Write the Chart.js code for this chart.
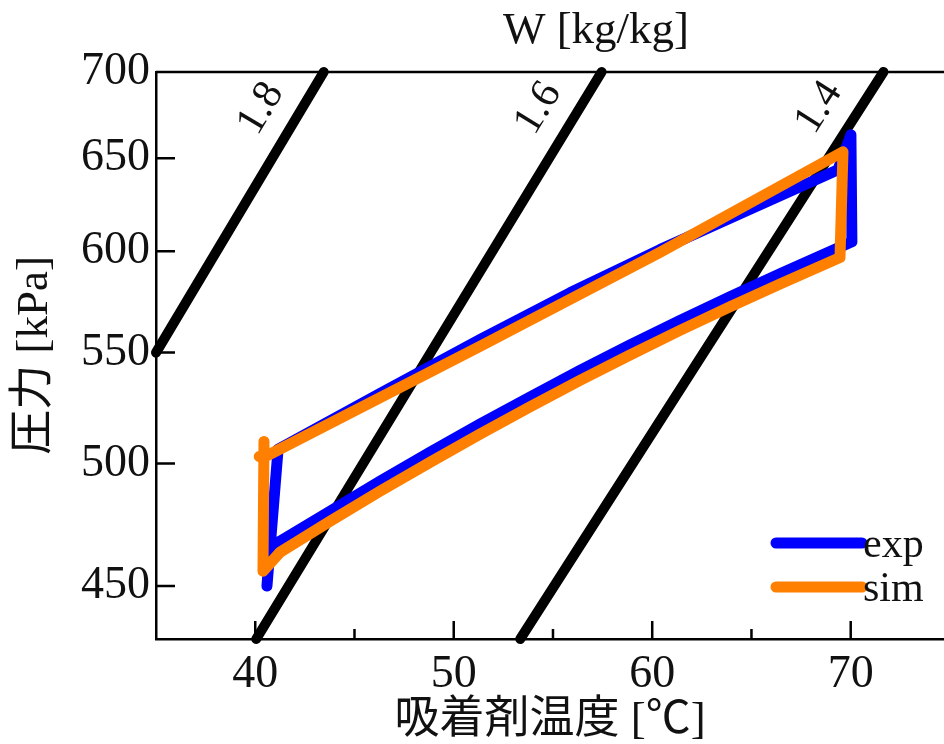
<!DOCTYPE html>
<html>
<head>
<meta charset="utf-8">
<script src="https://cdn.jsdelivr.net/npm/chart.js@4.4.1/dist/chart.umd.min.js"></script>
<style>
  html, body { margin: 0; padding: 0; background: #fff; overflow: hidden; }
</style>
</head>
<body>
<canvas id="chart" width="944" height="744"></canvas>
<script>
// loop paths: adsorbent temperature [°C] vs pressure [kPa]
const expTemp = [41.15, 46.28, 51.32, 55.86, 60.39, 64.42, 69.36, 70.01, 70.06,
	66.44, 63.92, 61.40, 58.88, 56.36, 53.84, 51.32, 48.80, 46.28, 43.77, 41.25, 40.74, 40.59, 41.15];
const expPres = [506.1, 531.0, 556.2, 579.0, 600.9, 619.7, 643.6, 663.2, 605.0,
	588.5, 577.1, 565.4, 553.6, 541.6, 529.4, 517.2, 504.8, 492.4, 479.9, 467.7, 465.7, 450.0, 506.1];
const simTemp = [40.20, 40.44, 51.32, 60.39, 69.61, 69.46,
	66.44, 63.92, 61.40, 58.88, 56.36, 53.84, 51.32, 48.80, 46.28, 43.77, 41.25, 40.39, 40.44, 40.44];
const simPres = [503.0, 502.7, 553.0, 599.5, 653.6, 596.8,
	583.4, 572.1, 560.6, 548.9, 537.0, 524.9, 512.8, 500.5, 488.2, 475.8, 463.3, 455.8, 509.6, 502.7];

// isosteres W [kg/kg], two end points each
const isoLabels = ['1.8', '1.6', '1.4'];
const isoTemp = [[35.0, 43.45], [40.05, 57.45], [53.35, 71.65]];
const isoPres = [[550, 700], [430, 700], [430, 700]];
const isoLabelPres = 668;

const xTicks = [40, 50, 60, 70];
const xMinorTicks = [45, 55, 65];
const yTicks = [450, 500, 550, 600, 650, 700];

const serif = "'Liberation Serif', 'Noto Sans CJK JP', serif";
const ink = '#111';

const toPoints = (xs, ys) => xs.map((x, i) => ({ x: x, y: ys[i] }));

const datasets = isoLabels.map((lab, i) => ({
	label: lab,
	data: toPoints(isoTemp[i], isoPres[i]),
	borderColor: '#000',
	borderWidth: 10,
	order: 2,
	clip: false
}));
datasets.push({ label: 'exp', data: toPoints(expTemp, expPres), borderColor: '#0000ff', borderWidth: 11, order: 1 });
datasets.push({ label: 'sim', data: toPoints(simTemp, simPres), borderColor: '#ff7f00', borderWidth: 11, order: 0 });

// frame, inward ticks, W labels and legend
const decor = {
	id: 'decor',
	beforeDatasetsDraw(chart) {
		const { ctx, chartArea: a, scales: { x, y } } = chart;
		ctx.save();
		ctx.strokeStyle = '#000';
		ctx.lineWidth = 2.5;
		ctx.beginPath();
		ctx.moveTo(a.left, a.top);
		ctx.lineTo(a.right, a.top);
		xTicks.forEach(v => {
			const px = x.getPixelForValue(v);
			ctx.moveTo(px, a.bottom);
			ctx.lineTo(px, a.bottom - 18);
		});
		xMinorTicks.forEach(v => {
			const px = x.getPixelForValue(v);
			ctx.moveTo(px, a.bottom);
			ctx.lineTo(px, a.bottom - 10);
		});
		yTicks.forEach(v => {
			const py = y.getPixelForValue(v);
			ctx.moveTo(a.left, py);
			ctx.lineTo(a.left + 19, py);
		});
		ctx.stroke();
		ctx.restore();
	},
	afterDatasetsDraw(chart) {
		const { ctx, chartArea: a, scales: { x, y } } = chart;
		ctx.save();
		ctx.fillStyle = ink;

		// W values written along each isostere
		ctx.font = '42px ' + serif;
		ctx.textAlign = 'center';
		ctx.textBaseline = 'middle';
		isoLabels.forEach((lab, i) => {
			const x0 = x.getPixelForValue(isoTemp[i][0]), y0 = y.getPixelForValue(isoPres[i][0]);
			const x1 = x.getPixelForValue(isoTemp[i][1]), y1 = y.getPixelForValue(isoPres[i][1]);
			const ang = Math.atan2(y1 - y0, x1 - x0);
			const py = y.getPixelForValue(isoLabelPres);
			const px = x0 + (py - y0) / (y1 - y0) * (x1 - x0);
			const cx = px + Math.sin(ang) * 35;
			const cy = py - Math.cos(ang) * 35;
			ctx.save();
			ctx.translate(cx, cy);
			ctx.rotate(ang);
			ctx.fillText(lab, 0, 0);
			ctx.restore();
		});

		// top title
		ctx.font = '45px ' + serif;
		ctx.textBaseline = 'alphabetic';
		ctx.fillText('W [kg/kg]', (a.left + a.right) / 2 + 46, a.top - 29);

		// legend
		const rows = chart.data.datasets.filter(d => d.label === 'exp' || d.label === 'sim');
		rows.forEach((d, i) => {
			const ly = a.bottom - 96 + i * 44;
			ctx.strokeStyle = d.borderColor;
			ctx.lineWidth = 11;
			ctx.lineCap = 'round';
			ctx.beginPath();
			ctx.moveTo(a.right - 168, ly);
			ctx.lineTo(a.right - 82, ly);
			ctx.stroke();
			ctx.fillStyle = ink;
			ctx.font = '42px ' + serif;
			ctx.textAlign = 'left';
			ctx.fillText(d.label, a.right - 81, ly + 14);
		});
		ctx.restore();
	}
};

new Chart(document.getElementById('chart'), {
	type: 'scatter',
	data: { datasets: datasets },
	options: {
		responsive: false,
		animation: false,
		devicePixelRatio: 1,
		layout: { padding: { top: 72, right: 0, left: 0, bottom: 0 } },
		datasets: { scatter: { showLine: true } },
		elements: {
			point: { radius: 0, hoverRadius: 0 },
			line: { borderCapStyle: 'round', borderJoinStyle: 'round', tension: 0, fill: false }
		},
		plugins: { legend: { display: false }, tooltip: { enabled: false } },
		scales: {
			x: {
				type: 'linear',
				min: 35,
				max: 74.7,
				grid: { display: false, drawTicks: false },
				border: { display: true, color: '#000', width: 2.5 },
				afterBuildTicks: s => { s.ticks = xTicks.map(v => ({ value: v })); },
				afterFit: s => { s.height = 105; },
				ticks: { font: { family: serif, size: 46 }, color: ink, padding: 8, maxRotation: 0, autoSkip: false },
				title: { display: true, text: '吸着剤温度 [℃]', color: ink, font: { family: serif, size: 45, lineHeight: 1 }, padding: { top: 0, bottom: 0 } }
			},
			y: {
				type: 'logarithmic',
				min: 430,
				max: 700,
				grid: { display: false, drawTicks: false },
				border: { display: true, color: '#000', width: 2.5 },
				afterBuildTicks: s => { s.ticks = yTicks.map(v => ({ value: v })); },
				afterFit: s => { s.width = 156; },
				ticks: { font: { family: serif, size: 46 }, color: ink, padding: 6, autoSkip: false, callback: v => String(v) },
				title: { display: true, text: '圧力 [kPa]', color: ink, font: { family: serif, size: 45, lineHeight: 1.2 }, padding: { top: 8, bottom: 0 } }
			}
		}
	},
	plugins: [decor]
});
</script>
</body>
</html>
